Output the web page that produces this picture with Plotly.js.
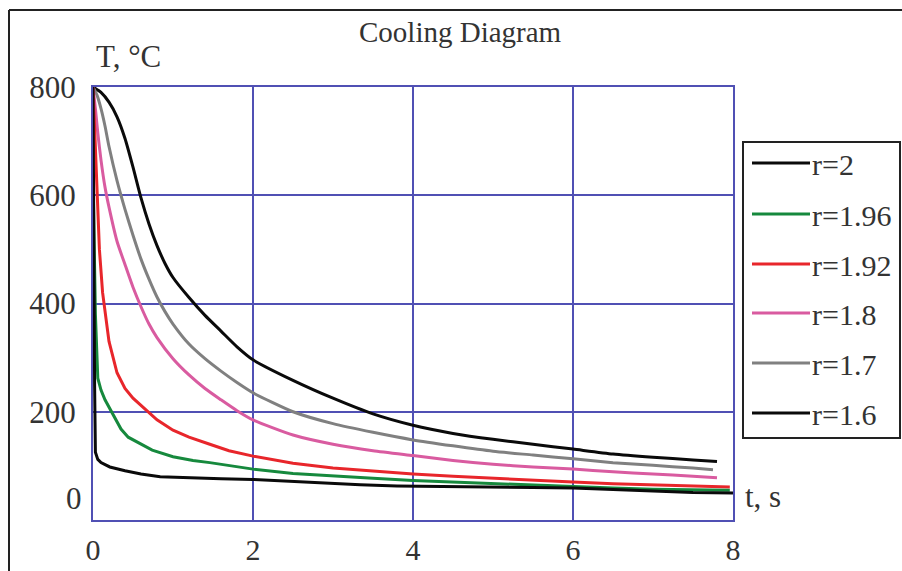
<!DOCTYPE html>
<html><head><meta charset="utf-8">
<script src="https://cdn.plot.ly/plotly-3.0.1.min.js"></script>
<style>html,body{margin:0;padding:0;background:#fff}#chart{width:902px;height:571px}</style>
</head><body><div id="chart"></div>
<script>
// ---- data ----
const titleText = "Cooling Diagram";
const yAxisLabel = "T, °C";
const xAxisLabel = "t, s";
const xTicks = [0, 2, 4, 6, 8];
const yTicks = [200, 400, 600, 800];
const yZeroLabel = "0";

const seriesNames = ["r=2", "r=1.96", "r=1.92", "r=1.8", "r=1.7", "r=1.6"];

const t_r2 = [0, 0.1, 0.2, 0.3, 0.4, 0.5, 0.6, 0.7, 0.8, 0.9, 1.0, 1.2, 1.4, 1.6, 1.8, 2.0, 2.5, 3.0, 3.5, 4.0, 4.5, 5.0, 5.5, 6.0, 6.5, 7.0, 7.5, 7.8];
const T_r2 = [800, 790, 772, 745, 705, 652, 595, 547, 507, 474, 448, 411, 378, 349, 320, 296, 258, 225, 196, 175, 160, 149, 140, 131, 122, 116, 111, 108];

const t_r196 = [0, 0.01, 0.03, 0.06, 0.1, 0.15, 0.2, 0.27, 0.35, 0.44, 0.6, 0.74, 1.0, 1.25, 1.46, 1.75, 2.0, 2.5, 3.0, 3.5, 4.0, 4.5, 5.0, 5.5, 6.0, 6.5, 7.0, 7.5, 7.96];
const T_r196 = [640, 520, 380, 262, 240, 222, 208, 188, 168, 153, 140, 129, 117, 110, 106, 99, 94, 86, 81, 77, 73, 70, 67, 64, 61, 59, 57, 56, 55];

const t_r192 = [0, 0.02, 0.05, 0.08, 0.12, 0.2, 0.3, 0.4, 0.5, 0.63, 0.8, 1.0, 1.2, 1.46, 1.7, 2.0, 2.5, 3.0, 3.5, 4.0, 4.5, 5.0, 5.5, 6.0, 6.5, 7.0, 7.5, 7.96];
const T_r192 = [800, 720, 600, 500, 420, 330, 272, 243, 225, 207, 185, 166, 153, 140, 128, 118, 105, 96, 90, 85, 81, 77, 74, 70, 67, 65, 63, 61];

const t_r18 = [0, 0.03, 0.06, 0.1, 0.15, 0.2, 0.3, 0.4, 0.5, 0.6, 0.7, 0.8, 1.0, 1.2, 1.4, 1.6, 1.8, 2.0, 2.5, 3.0, 3.5, 4.0, 4.5, 5.0, 5.5, 6.0, 6.5, 7.0, 7.5, 7.8];
const T_r18 = [800, 760, 715, 665, 615, 578, 515, 472, 430, 394, 362, 337, 298, 268, 243, 222, 202, 185, 157, 140, 128, 119, 110, 103, 98, 94, 89, 85, 81, 78];

const t_r17 = [0, 0.05, 0.1, 0.15, 0.2, 0.3, 0.4, 0.5, 0.6, 0.7, 0.8, 0.9, 1.0, 1.2, 1.4, 1.6, 1.8, 2.0, 2.5, 3.0, 3.5, 4.0, 4.5, 5.0, 5.5, 6.0, 6.5, 7.0, 7.5, 7.75];
const T_r17 = [800, 785, 760, 728, 690, 627, 574, 526, 482, 445, 412, 385, 362, 325, 298, 275, 254, 235, 200, 178, 162, 148, 137, 127, 120, 113, 106, 101, 96, 93];

const t_r16 = [0, 0.005, 0.01, 0.02, 0.03, 0.06, 0.1, 0.21, 0.4, 0.6, 0.84, 1.2, 1.6, 2.0, 2.5, 3.0, 3.34, 3.8, 4.2, 4.6, 5.0, 5.5, 6.0, 6.5, 7.0, 7.5, 8.0];
const T_r16 = [800, 600, 400, 250, 125, 112, 106, 98, 91, 85, 80, 78, 76, 75, 71, 67, 65, 63, 62, 61, 60, 60, 59, 56, 53, 51, 50];

// ---- styles ----
const seriesColors = {
  "r=2": "#0a0a0a", "r=1.96": "#16893d", "r=1.92": "#e8262b",
  "r=1.8": "#d95ba0", "r=1.7": "#808080", "r=1.6": "#0a0a0a"
};
const seriesShape = {
  "r=2": "spline", "r=1.96": "linear", "r=1.92": "linear",
  "r=1.8": "spline", "r=1.7": "spline", "r=1.6": "linear"
};
const seriesData = {
  "r=2": [t_r2, T_r2], "r=1.96": [t_r196, T_r196], "r=1.92": [t_r192, T_r192],
  "r=1.8": [t_r18, T_r18], "r=1.7": [t_r17, T_r17], "r=1.6": [t_r16, T_r16]
};
const drawOrder = ["r=2", "r=1.7", "r=1.8", "r=1.92", "r=1.96", "r=1.6"];

const W = 902, H = 571;
const L = 93, R = 733, TOP = 87, BOT = 520;
const px = x => (x - L) / (R - L);
const py = y => (BOT - y) / (BOT - TOP);
const serif = "Liberation Serif, Times New Roman, serif";
const textCol = "#333333";
const blue = "#5050b4";

const traces = drawOrder.map(n => ({
  x: seriesData[n][0], y: seriesData[n][1], name: n,
  type: "scatter", mode: "lines",
  line: {color: seriesColors[n], width: 3, shape: seriesShape[n], smoothing: 0.6},
  showlegend: false, hoverinfo: "skip"
}));

const annotations = [
  {text: titleText, x: px(460), y: py(32), xref: "paper", yref: "paper", showarrow: false,
   xanchor: "center", yanchor: "middle", font: {family: serif, size: 29, color: textCol}},
  {text: yAxisLabel, x: px(94), y: py(56), xref: "paper", yref: "paper", showarrow: false,
   xanchor: "left", yanchor: "middle", font: {family: serif, size: 31, color: textCol}},
  {text: xAxisLabel, x: px(743), y: py(496), xref: "paper", yref: "paper", showarrow: false,
   xanchor: "left", yanchor: "middle", font: {family: serif, size: 31, color: textCol}},
  {text: yZeroLabel, x: px(84), y: py(498), xref: "paper", yref: "paper", showarrow: false,
   xanchor: "right", yanchor: "middle", font: {family: serif, size: 31, color: textCol}}
];

const shapes = [
  // outer frame (top and left edges)
  {type: "line", xref: "paper", yref: "paper", x0: px(9), x1: px(905), y0: py(10), y1: py(10),
   line: {color: "#222", width: 2}},
  {type: "line", xref: "paper", yref: "paper", x0: px(9), x1: px(9), y0: py(10), y1: py(575),
   line: {color: "#222", width: 2}},
  // legend box
  {type: "rect", xref: "paper", yref: "paper", x0: px(743), x1: px(900), y0: py(142), y1: py(438),
   line: {color: "#222", width: 2}, fillcolor: "rgba(255,255,255,0)"}
];

const legendY = [163, 214, 264, 313, 363, 413];
seriesNames.forEach((n, i) => {
  shapes.push({type: "line", xref: "paper", yref: "paper", x0: px(752), x1: px(810),
    y0: py(legendY[i]), y1: py(legendY[i]), line: {color: seriesColors[n], width: 3}});
  annotations.push({text: n, x: px(810), y: py(legendY[i] + 1), xref: "paper", yref: "paper",
    showarrow: false, xanchor: "left", yanchor: "middle",
    font: {family: serif, size: 30, color: textCol}});
});

const layout = {
  width: W, height: H,
  margin: {l: L, r: W - R, t: TOP, b: H - BOT, pad: 0},
  paper_bgcolor: "#ffffff", plot_bgcolor: "#ffffff",
  showlegend: false,
  xaxis: {range: [0, 8], tickvals: xTicks, ticktext: xTicks.map(String), ticks: "",
    showgrid: true, gridcolor: blue, gridwidth: 2, zeroline: false,
    showline: true, mirror: true, linecolor: blue, linewidth: 2,
    tickfont: {family: serif, size: 30, color: textCol}, ticklabelstandoff: 2},
  yaxis: {range: [0, 800], tickvals: yTicks, ticktext: yTicks.map(String), ticks: "",
    showgrid: true, gridcolor: blue, gridwidth: 2, zeroline: false,
    showline: true, mirror: true, linecolor: blue, linewidth: 2,
    tickfont: {family: serif, size: 31, color: textCol}, ticklabelstandoff: 9},
  annotations: annotations,
  shapes: shapes
};

Plotly.newPlot("chart", traces, layout, {displayModeBar: false, staticPlot: true});
</script>
</body></html>
